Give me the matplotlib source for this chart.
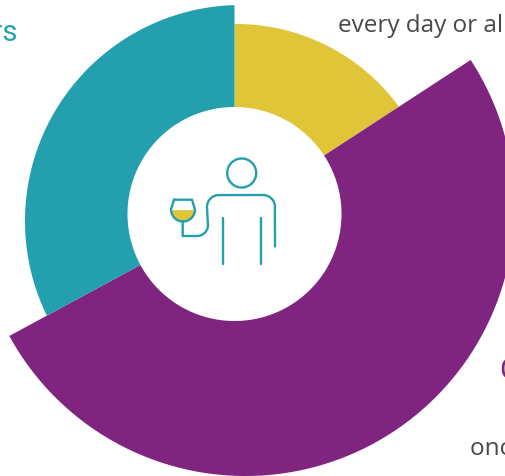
import matplotlib
matplotlib.use("Agg")
from matplotlib import pyplot as plt
from matplotlib.patches import Polygon
import numpy as np

c_yellow = "#dfc537"
c_purple = "#7f2580"
c_teal = "#249fae"
c_text = "#484848"

# share of each group in percent, clockwise from the top
groups = ["every day or almost every day", "Occasional drinkers", "Non-drinkers"]
shares = [15.8, 51.3, 32.9]
radii = [202, 269, 216]
colors = [c_yellow, c_purple, c_teal]
# every band is drawn on a circle of its own, shifted from the hole centre
shifts = [(1.5, 12), (10.9, -7), (6.5, 7)]

cx, cy = 234.5, 214
hole = 107


def arc(x0, y0, r, a1, a2, n=60):
    t = np.radians(np.linspace(a1, a2, n))
    return np.column_stack([x0 + r * np.cos(t), y0 + r * np.sin(t)])


def band(a1, a2, r, shift):
    # outer edge: where each ray from the centre meets the shifted circle
    t = np.radians(np.linspace(a1, a2, 400))
    dx, dy = shift
    b = dx * np.cos(t) + dy * np.sin(t)
    rr = b + np.sqrt(b ** 2 - dx ** 2 - dy ** 2 + r ** 2)
    outer = np.column_stack([cx + rr * np.cos(t), cy + rr * np.sin(t)])
    inner = arc(cx, cy, hole, a2, a1, 200)
    return np.vstack([outer, inner])


def line(pts):
    pts = np.vstack(pts)
    ax.plot(pts[:, 0], pts[:, 1], color=c_teal, lw=lw, solid_capstyle="round", solid_joinstyle="round", zorder=4)


fig = plt.figure(figsize=(5.06, 4.76), dpi=100)
ax = fig.add_axes([0, 0, 1, 1])
ax.set_xlim(0, 506)
ax.set_ylim(476, 0)
ax.axis("off")

start = -90
for share, r, col, shift in zip(shares, radii, colors, shifts):
    end = start + share * 3.6
    ax.add_patch(Polygon(band(start, end, r, shift), closed=True, fc=col, ec="none"))
    start = end

# labels run off the edge of the canvas
font = "Open Sans"
ax.text(338, 25.5, groups[0], fontsize=17.5, family=font, color=c_text, va="center", ha="left")
ax.text(18.5, 33, groups[2], fontsize=21, family="Roboto", color=c_teal, va="center", ha="right")
ax.text(500.5, 371, groups[1], fontsize=21, family="Roboto", color=c_purple, va="center", ha="left")
ax.text(470, 449, "once a week", fontsize=17.5, family=font, color=c_text, va="center", ha="left")

# person holding a glass
lw = 1.7
line([arc(241.7, 173, 14.5, 0, 360)])
line([[(275, 246.5)], arc(263, 207, 12, 0, -90), arc(219, 207, 12, 270, 180),
      arc(197, 225, 11, 0, 90), [(182.7, 236), (182.7, 221)]])
for x in [222.7, 260.7]:
    line([[(x, 218), (x, 264)]])

# wine first, bowl outline on top
bowl_arc = arc(183, 209.5, 12, 0, 180)
wine = bowl_arc[bowl_arc[:, 1] >= 210]
ax.add_patch(Polygon(wine, closed=True, fc=c_yellow, ec="none", zorder=3))
line([[(174, 199.7), (192, 199.7)], bowl_arc, [(174, 199.7)]])

plt.savefig("out.png", dpi=100)
